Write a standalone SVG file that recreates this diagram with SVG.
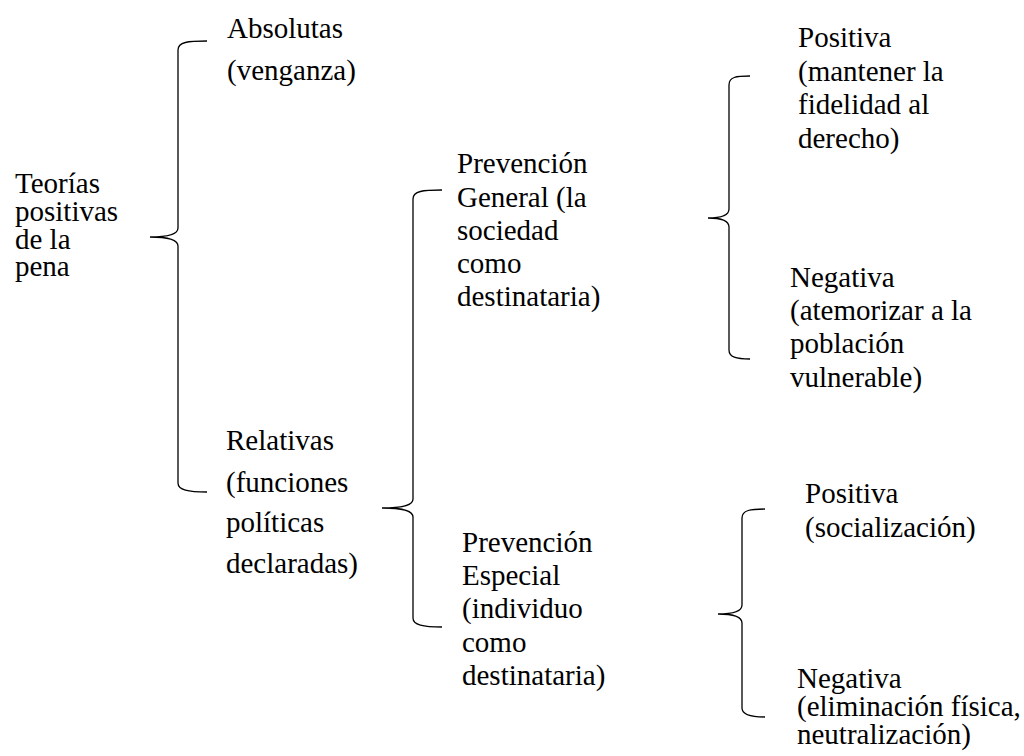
<svg xmlns="http://www.w3.org/2000/svg" width="1024" height="756" viewBox="0 0 1024 756">
<style>
.br{fill:none;stroke:#000;stroke-width:1.3}
</style>
<rect width="1024" height="756" fill="#fff"/>
<g id="connectors">
<path class="br" d="M207,41 C188,41 178,42 178,50 L178,228 C178,234 170,237 150,237 C170,237 178,240 178,246 L178,483 C178,490 188,492 207,492"/>
<path class="br" d="M442,190 C423,190 413,191 413,199 L413,499 C413,505 405,508 382,508 C405,508 413,511 413,517 L413,618 C413,625 423,627 442,627"/>
<path class="br" d="M750,76 C736,76 729,77 729,85 L729,209 C729,215 722,218 708,218 C722,218 729,221 729,227 L729,350 C729,357 736,359 750,359"/>
<path class="br" d="M765,509 C751,509 742,510 742,518 L742,605 C742,611 734,614 718,614 C734,614 742,617 742,623 L742,708 C742,715 751,717 765,717"/>
</g>
<g font-family="Liberation Serif, serif" font-size="29" fill="#000">
<g id="teorias"><text x="15" y="193">Teorías</text><text x="15" y="221">positivas</text><text x="15" y="249">de la</text><text x="15" y="276">pena</text></g>
<g id="absolutas"><text x="227" y="38">Absolutas</text><text x="227" y="80">(venganza)</text></g>
<g id="relativas"><text x="226" y="450">Relativas</text><text x="226" y="492">(funciones</text><text x="226" y="532">políticas</text><text x="226" y="573">declaradas)</text></g>
<g id="prev-general"><text x="457" y="173">Prevención</text><text x="457" y="207">General (la</text><text x="457" y="240">sociedad</text><text x="457" y="273">como</text><text x="457" y="306">destinataria)</text></g>
<g id="prev-especial"><text x="462" y="552">Prevención</text><text x="462" y="585">Especial</text><text x="462" y="618">(individuo</text><text x="462" y="652">como</text><text x="462" y="685">destinataria)</text></g>
<g id="gen-positiva"><text x="798" y="47">Positiva</text><text x="798" y="81">(mantener la</text><text x="798" y="114">fidelidad al</text><text x="798" y="148">derecho)</text></g>
<g id="gen-negativa"><text x="790" y="287">Negativa</text><text x="790" y="320">(atemorizar a la</text><text x="790" y="353">población</text><text x="790" y="387">vulnerable)</text></g>
<g id="esp-positiva"><text x="805" y="503">Positiva</text><text x="805" y="537">(socialización)</text></g>
<g id="esp-negativa"><text x="797" y="688">Negativa</text><text x="797" y="716">(eliminación física,</text><text x="797" y="744">neutralización)</text></g>
</g>
</svg>
